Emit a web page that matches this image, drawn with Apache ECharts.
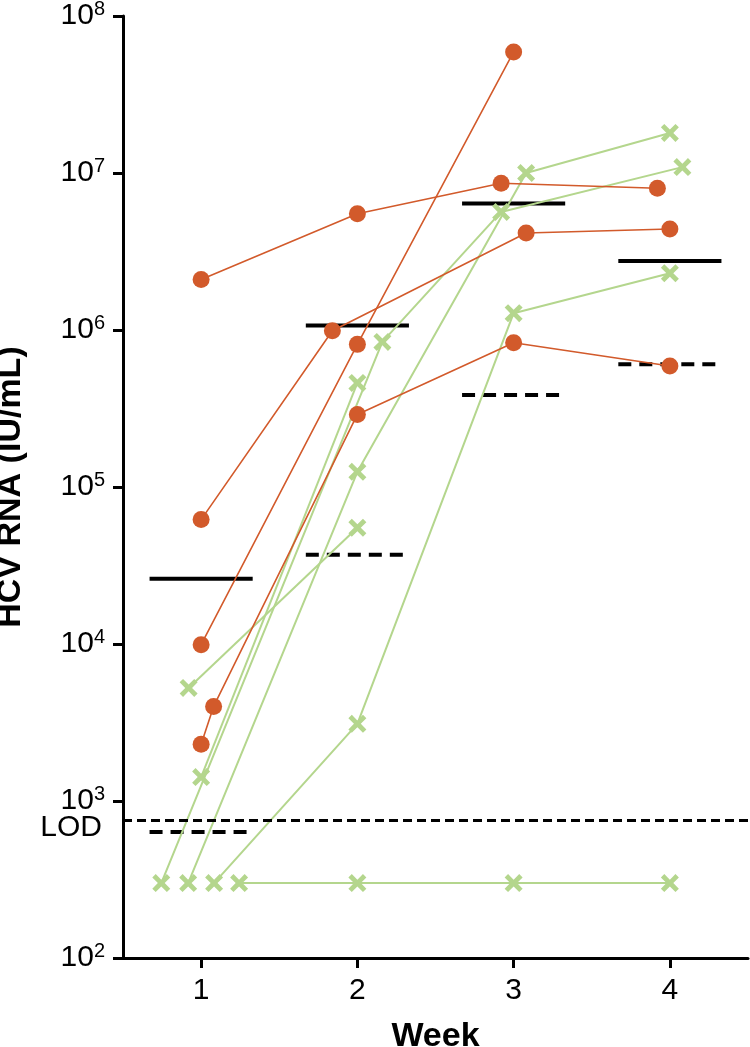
<!DOCTYPE html>
<html><head><meta charset="utf-8">
<script src="https://cdn.jsdelivr.net/npm/echarts@6/dist/echarts.min.js"></script>
<style>html,body{margin:0;padding:0;background:#fff}#c{width:750px;height:1047px}</style>
</head><body><div id="c"></div>
<script>
// ---- data ----
const weekTicks = [1, 2, 3, 4];
const yTicks = [1e2, 1e3, 1e4, 1e5, 1e6, 1e7, 1e8];
const LOD = 750;
// red group (circles): [week (jittered), HCV RNA IU/mL]
const red1 = [[1, 2.1e6], [2, 5.5e6], [2.92, 8.6e6], [3.92, 8.0e6]];
const red2 = [[1, 6.2e4], [1.84, 9.9e5], [3.08, 4.15e6], [4, 4.4e6]];
const red3 = [[1, 9.9e3], [2, 8.1e5], [3, 5.9e7]];
const red4 = [[1, 2.3e3], [1.08, 4.0e3], [2, 2.9e5], [3, 8.3e5], [4, 5.9e5]];
// green group (crosses)
const green1 = [[0.745, 300], [2.16, 8.4e5], [2.92, 5.65e6], [4.08, 1.09e7]];
const green2 = [[1, 1.42e3], [2, 4.6e5]];
const green3 = [[0.917, 300], [2, 1.25e5], [3.08, 1.0e7], [4, 1.8e7]];
const green4 = [[0.92, 5.25e3], [2, 5.5e4]];
const green5 = [[1.083, 300], [2, 3.1e3], [3, 1.28e6], [4, 2.3e6]];
const green6 = [[1.243, 300], [2, 300], [3, 300], [4, 300]];
// group geometric means per week
const redMean = [2.6e4, 1.07e6, 6.4e6, 2.75e6];
const greenMean = [635, 3.7e4, 3.85e5, 6.05e5];

// ---- styles ----
const RED = '#D25A2B';
const GREEN = '#B4D68D';
const FONT = '"Liberation Sans", Arial, Helvetica, sans-serif';
const HALF = 0.33;
const XSYM = 'path://M0,19L19,0L50,31L81,0L100,19L69,50L100,81L81,100L50,69L19,100L0,81L31,50Z';

const chart = echarts.init(document.getElementById('c'), null, {renderer: 'canvas'});

function animal(data, color, isRed) {
  return {
    type: 'line', data: data, z: isRed ? 4 : 3,
    symbol: isRed ? 'circle' : XSYM,
    symbolSize: isRed ? 17 : 18,
    showAllSymbol: true,
    lineStyle: {color: color, width: isRed ? 1.6 : 2},
    itemStyle: {color: color, borderWidth: 0},
    emphasis: {disabled: true},
    animation: false
  };
}

function meanBars(vals, dashed) {
  return {
    type: 'custom', z: 2, animation: false,
    data: vals.map((v, i) => [weekTicks[i], v]),
    encode: {x: 0, y: 1},
    renderItem: function (params, api) {
      const w = api.value(0), v = api.value(1);
      const p1 = api.coord([w - HALF, v]);
      const p2 = api.coord([w + HALF, v]);
      return {
        type: 'line',
        shape: {x1: p1[0], y1: p1[1], x2: p2[0], y2: p2[1]},
        style: {stroke: '#000', lineWidth: 4, lineDash: dashed ? [13, 8] : null}
      };
    }
  };
}

const series = [
  meanBars(redMean, false),
  meanBars(greenMean, true),
  {
    type: 'line', data: [], animation: false,
    markLine: {
      silent: true, symbol: ['none', 'none'],
      lineStyle: {color: '#000', width: 3, type: [9, 5]},
      label: {show: false},
      data: [{yAxis: LOD}]
    }
  },
  animal(green1, GREEN, false), animal(green2, GREEN, false), animal(green3, GREEN, false),
  animal(green4, GREEN, false), animal(green5, GREEN, false), animal(green6, GREEN, false),
  animal(red1, RED, true), animal(red2, RED, true), animal(red3, RED, true), animal(red4, RED, true)
];

chart.setOption({
  backgroundColor: '#fff',
  animation: false,
  grid: {left: 123, right: 2, top: 16, bottom: 89, containLabel: false, outerBoundsMode: 'none'},
  xAxis: {
    type: 'value', min: 0.5, max: 4.5,
    name: 'Week', nameLocation: 'middle', nameGap: 62,
    nameTextStyle: {fontSize: 34, fontWeight: 'bold', color: '#000', fontFamily: FONT},
    axisLine: {show: true, onZero: false, lineStyle: {color: '#000', width: 3}},
    axisTick: {show: true, length: 10, lineStyle: {color: '#000', width: 3}, customValues: weekTicks},
    axisLabel: {color: '#000', fontSize: 30, fontFamily: FONT, margin: 18, customValues: weekTicks},
    splitLine: {show: false}
  },
  yAxis: {
    type: 'log', logBase: 10, min: 1e2, max: 1e8,
    name: 'HCV RNA (IU/mL)', nameLocation: 'middle', nameGap: 95, nameRotate: 90,
    nameTextStyle: {fontSize: 34, fontWeight: 'bold', color: '#000', fontFamily: FONT},
    axisLine: {show: true, onZero: false, lineStyle: {color: '#000', width: 3}},
    axisTick: {show: true, length: 10, lineStyle: {color: '#000', width: 3}, customValues: yTicks},
    axisLabel: {
      color: '#000', margin: 18, customValues: yTicks,
      formatter: function (v) { return '{b|10}{s|' + Math.round(Math.log10(v)) + '}'; },
      rich: {
        b: {fontSize: 30, fontFamily: FONT, color: '#000', lineHeight: 34},
        s: {fontSize: 20, fontFamily: FONT, color: '#000', verticalAlign: 'top', lineHeight: 20}
      }
    },
    splitLine: {show: false}
  },
  series: series
});

// LOD label placed next to the LOD line, from the axis scale
const lodPx = chart.convertToPixel({gridIndex: 0}, [0.5, LOD]);
chart.setOption({
  graphic: [{
    type: 'text', silent: true,
    x: lodPx[0] - 21, y: lodPx[1] + 7,
    style: {text: 'LOD', fill: '#000', fontSize: 30, fontFamily: FONT, align: 'right', verticalAlign: 'middle'}
  }]
});
</script>
</body></html>
